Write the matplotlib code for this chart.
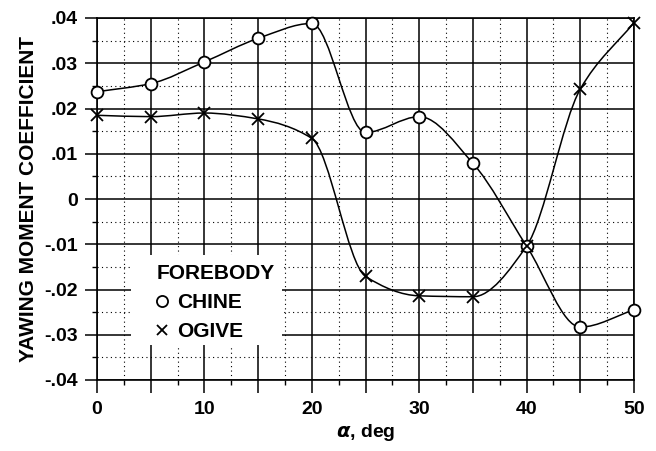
import numpy as np
import matplotlib
matplotlib.use("Agg")
import matplotlib.pyplot as plt
from matplotlib.path import Path
from matplotlib.patches import PathPatch, Rectangle
from matplotlib.lines import Line2D

# Data
alpha = [0, 5, 10, 15, 20, 25, 30, 35, 40, 45, 50]
chine = [0.0237, 0.0255, 0.0303, 0.0355, 0.0388, 0.0147, 0.0182, 0.0079, -0.0104, -0.0283, -0.0245]
ogive = [0.0185, 0.0182, 0.0190, 0.0177, 0.0134, -0.0171, -0.0214, -0.0216, -0.0104, 0.0243, 0.0390]

xticks = [0, 10, 20, 30, 40, 50]
yticks = [-0.04, -0.03, -0.02, -0.01, 0, 0.01, 0.02, 0.03, 0.04]
ytick_labels = ["-.04", "-.03", "-.02", "-.01", "0", ".01", ".02", ".03", ".04"]

plt.rcParams['font.family'] = ['Liberation Sans', 'DejaVu Sans']
plt.rcParams['font.weight'] = 'bold'


def pchip_slopes(x, y):
    # monotone (Fritsch-Carlson) slopes at each data point
    x = np.asarray(x, float)
    y = np.asarray(y, float)
    h = np.diff(x)
    d = np.diff(y) / h
    m = np.zeros_like(y)
    for i in range(1, len(x) - 1):
        if d[i - 1] * d[i] > 0:
            w1 = 2 * h[i] + h[i - 1]
            w2 = h[i] + 2 * h[i - 1]
            m[i] = (w1 + w2) / (w1 / d[i - 1] + w2 / d[i])
    m[0] = d[0]
    m[-1] = d[-1]
    return m


def smooth_path(x, y):
    # cubic bezier segments through the data points
    m = pchip_slopes(x, y)
    verts = [(x[0], y[0])]
    codes = [Path.MOVETO]
    for i in range(len(x) - 1):
        h = x[i + 1] - x[i]
        verts += [(x[i] + h / 3, y[i] + m[i] * h / 3),
                  (x[i + 1] - h / 3, y[i + 1] - m[i + 1] * h / 3),
                  (x[i + 1], y[i + 1])]
        codes += [Path.CURVE4] * 3
    return Path(verts, codes)


fig = plt.figure(figsize=(6.56, 4.51), dpi=100)
ax = fig.add_axes([97 / 656, 1 - 380 / 451, 537 / 656, 362 / 451])

ax.set_xlim(0, 50)
ax.set_ylim(-0.04, 0.04)
ax.set_axisbelow(True)

ax.set_xticks(np.arange(0, 51, 5))
ax.set_xticks(np.arange(2.5, 50, 5), minor=True)
ax.set_xticklabels([str(v) if v in xticks else "" for v in range(0, 51, 5)])
ax.set_yticks(yticks)
ax.set_yticklabels(ytick_labels)
ax.set_yticks(np.arange(-0.035, 0.04, 0.01), minor=True)

ax.grid(True, which='major', color='black', linewidth=1.1, linestyle='-')
ax.grid(True, which='minor', color='black', linewidth=0.8, linestyle=(0, (1, 3)))

ax.tick_params(which='major', direction='out', length=9, width=1.1, labelsize=14, pad=5)
ax.tick_params(which='minor', direction='out', length=3.5, width=1.0)
ax.tick_params(axis='x', which='major', pad=6)
for s in ax.spines.values():
    s.set_linewidth(1.2)

for vals, mk, ms in [(chine, 'o', 8.5), (ogive, 'x', 8)]:
    ax.add_patch(PathPatch(smooth_path(alpha, vals), facecolor='none',
                           edgecolor='black', linewidth=1.1, zorder=3))
    ax.plot(alpha, vals, linestyle='none', marker=mk, markersize=ms,
            markerfacecolor='white', markeredgecolor='black',
            markeredgewidth=1.3, zorder=4, clip_on=False)

ax.set_xlabel(r"$\alpha$, deg", fontsize=14, fontweight='bold', labelpad=3)
ax.set_ylabel("YAWING MOMENT COEFFICIENT", fontsize=15, fontweight='bold', labelpad=4)

# white block behind the legend
ax.add_patch(Rectangle(((131 - 97) / 537, (380 - 345) / 362), 151 / 537, 90 / 362,
                       transform=ax.transAxes, facecolor='white', edgecolor='none', zorder=2))

handles = [Line2D([], [], linestyle='none', marker='o', markersize=8,
                  markerfacecolor='white', markeredgecolor='black', markeredgewidth=1.3),
           Line2D([], [], linestyle='none', marker='x', markersize=6.5,
                  markeredgecolor='black', markeredgewidth=1.3)]
leg = ax.legend(handles, ["CHINE", "OGIVE"], title="FOREBODY",
                loc='upper left', bbox_to_anchor=(0.084, 0.362), frameon=False,
                prop={'size': 15, 'weight': 'bold'},
                title_fontproperties={'size': 15, 'weight': 'bold'},
                alignment='left', handlelength=0.5, handletextpad=0.5,
                labelspacing=0.5, borderpad=0.2)
leg.set_zorder(5)

fig.savefig("out.png", dpi=100)
